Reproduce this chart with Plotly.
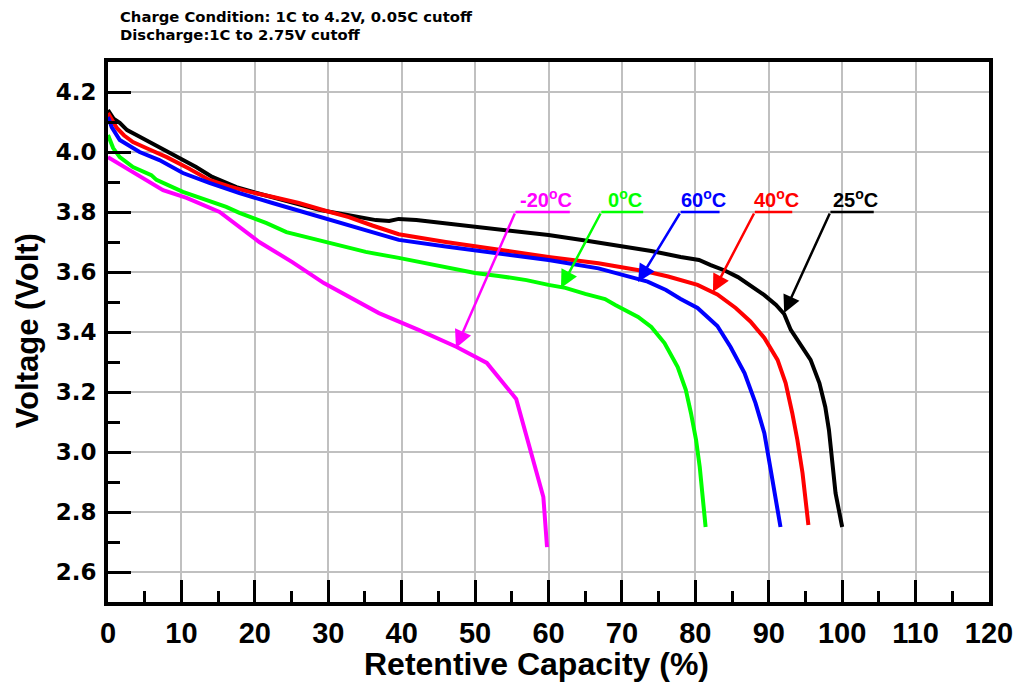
import plotly.graph_objects as go

# ---------------- data ----------------
cap_25 = [0, 0.8, 1.6, 2.6, 4.0, 5.7, 7.5, 9.8, 12, 14.2, 17.5, 20, 22.4, 25.5, 28.8, 31.5,
          34.2, 36.5, 38.3, 39.6, 42, 45, 50.5, 55, 60, 65, 70.4, 74, 78, 80.5, 82.1, 84,
          85.8, 87.5, 89.4, 91, 92.1, 93, 93.9, 95.7, 96.9, 97.7, 98.2, 98.6, 99.1, 100]
volt_25 = [4.14, 4.11, 4.097, 4.073, 4.055, 4.033, 4.01, 3.98, 3.95, 3.917, 3.883, 3.865, 3.85,
           3.83, 3.807, 3.795, 3.783, 3.773, 3.77, 3.777, 3.773, 3.765, 3.75, 3.737, 3.723,
           3.705, 3.683, 3.67, 3.65, 3.64, 3.623, 3.605, 3.583, 3.555, 3.523, 3.49, 3.46,
           3.407, 3.373, 3.307, 3.23, 3.15, 3.073, 2.973, 2.863, 2.75]

cap_40 = [0, 0.5, 1.2, 2.2, 3.4, 5.5, 8, 11, 13.8, 16.5, 19.3, 22.5, 26, 29.5, 32.8, 36, 39.6,
          46, 53.2, 60, 66.8, 73.5, 76.3, 80.3, 83, 85.5, 87.5, 89.4, 91.2, 92.3, 93.2,
          93.9, 94.6, 95, 95.4]
volt_40 = [4.13, 4.11, 4.08, 4.055, 4.033, 4.01, 3.983, 3.945, 3.907, 3.885, 3.867, 3.85, 3.83,
           3.805, 3.783, 3.755, 3.726, 3.70, 3.673, 3.65, 3.629, 3.601, 3.585, 3.557, 3.525,
           3.48, 3.435, 3.38, 3.307, 3.23, 3.13, 3.04, 2.93, 2.84, 2.757]

cap_60 = [0, 0.5, 1.6, 4.3, 7, 10.2, 13.8, 17.9, 22.4, 27, 31.5, 36, 39.6, 46, 53.2, 60,
          66.8, 70.4, 73.5, 76, 78, 80.3, 83, 84.8, 86.7, 88.2, 89.4, 90.2, 90.9, 91.6]
volt_60 = [4.117, 4.083, 4.04, 4.0, 3.973, 3.93, 3.897, 3.863, 3.83, 3.797, 3.763, 3.733,
           3.707, 3.685, 3.662, 3.64, 3.612, 3.588, 3.568, 3.54, 3.51, 3.48, 3.42, 3.35,
           3.263, 3.163, 3.063, 2.95, 2.85, 2.75]

cap_0 = [0, 0.7, 1.6, 3.4, 5.9, 6.6, 10.2, 16.1, 17.9, 21.6, 24.3, 30.5, 35.1, 39.6, 45, 50,
         53.2, 57, 60, 62.3, 65, 67.7, 69.1, 72.2, 74, 75.8, 77.6, 78.7, 79.4, 80.1, 80.6,
         81, 81.4]
volt_0 = [4.057, 4.013, 3.983, 3.95, 3.923, 3.907, 3.867, 3.817, 3.797, 3.763, 3.733, 3.697,
          3.667, 3.647, 3.622, 3.597, 3.587, 3.573, 3.557, 3.547, 3.527, 3.51, 3.49, 3.45,
          3.417, 3.363, 3.283, 3.207, 3.13, 3.04, 2.95, 2.863, 2.75]

cap_m20 = [0, 7.5, 10.7, 15.2, 20.6, 25.1, 29.4, 36.9, 42.3, 47.5, 51.6, 55.6, 59.3, 59.8]
volt_m20 = [3.983, 3.873, 3.847, 3.8, 3.70, 3.633, 3.563, 3.463, 3.407, 3.35, 3.297, 3.177,
            2.85, 2.683]

series_names = ["25oC", "40oC", "60oC", "0oC", "-20oC"]
series_colors = ["#000000", "#ff0000", "#0000ff", "#00ff00", "#ff00ff"]
series_x = [cap_25, cap_40, cap_60, cap_0, cap_m20]
series_y = [volt_25, volt_40, volt_60, volt_0, volt_m20]

# callout labels: text, tip (x, y), tail (x, y), underline end x
label_text = ["-20<sup>o</sup>C", "0<sup>o</sup>C", "60<sup>o</sup>C", "40<sup>o</sup>C", "25<sup>o</sup>C"]
label_color = ["#ff00ff", "#00ff00", "#0000ff", "#ff0000", "#000000"]
tip_x = [47.4, 61.7, 72.2, 82.4, 92.1]
tip_y = [3.347, 3.547, 3.567, 3.533, 3.463]
tail_x = [55.5, 67.2, 78.0, 88.1, 98.4]
tail_y = [3.80, 3.80, 3.80, 3.80, 3.80]
line_end_x = [62.9, 72.9, 83.3, 93.2, 104.3]

x_ticks = list(range(0, 121, 10))
y_ticks = [2.6, 2.8, 3.0, 3.2, 3.4, 3.6, 3.8, 4.0, 4.2]

title_lines = ["Charge Condition: 1C to 4.2V, 0.05C cutoff", "Discharge:1C to 2.75V cutoff"]

# ---------------- figure ----------------
fig = go.Figure()
for xs, ys, c, n in zip(series_x, series_y, series_colors, series_names):
    fig.add_trace(go.Scatter(x=xs, y=ys, mode="lines", name=n,
                             line=dict(color=c, width=4), showlegend=False))

annotations = []
shapes = []
for t, c, tx, ty, ax, ay, ex in zip(label_text, label_color, tip_x, tip_y, tail_x, tail_y, line_end_x):
    annotations.append(dict(x=tx, y=ty, ax=ax, ay=ay, xref="x", yref="y", axref="x", ayref="y",
                            text="", showarrow=True, arrowhead=2, arrowsize=1.4,
                            arrowwidth=2.5, arrowcolor=c))
    shapes.append(dict(type="line", xref="x", yref="y", x0=ax, x1=ex, y0=ay, y1=ay,
                       line=dict(color=c, width=2.5)))
    annotations.append(dict(x=(ax + ex) / 2 + 0.4, y=ay, xref="x", yref="y", text=t,
                            showarrow=False, xanchor="center", yanchor="bottom", yshift=-1,
                            font=dict(family="Liberation Sans, Arial", size=20, color=c,
                                      weight="bold")))

title_font = dict(family="DejaVu Sans", size=14.8, color="black", weight="bold")
annotations.append(dict(x=0.0113, y=1.085, xref="paper", yref="paper", text=title_lines[0],
                        showarrow=False, xanchor="left", yanchor="middle", font=title_font))
annotations.append(dict(x=0.0113, y=1.050, xref="paper", yref="paper", text=title_lines[1],
                        showarrow=False, xanchor="left", yanchor="middle", font=title_font))
annotations.append(dict(x=0.486, y=-0.115, xref="paper", yref="paper",
                        text="Retentive Capacity (%)", showarrow=False,
                        xanchor="center", yanchor="middle",
                        font=dict(family="Liberation Sans, Arial", size=32, color="black",
                                  weight="bold")))
annotations.append(dict(x=-0.0904, y=0.502, xref="paper", yref="paper",
                        text="Voltage (Volt)", showarrow=False, textangle=-90,
                        xanchor="center", yanchor="middle",
                        font=dict(family="Liberation Sans, Arial",
                                  size=31, color="black", weight="bold")))

fig.update_layout(
    width=1017, height=678,
    margin=dict(l=100, r=32, t=54, b=84),
    paper_bgcolor="white", plot_bgcolor="white",
    annotations=annotations, shapes=shapes,
    xaxis=dict(range=[0, 120], tickvals=x_ticks, ticktext=[str(v) for v in x_ticks],
               showgrid=True, gridcolor="#c0c0c0", gridwidth=1.5, zeroline=False,
               showline=True, linecolor="black", linewidth=4, mirror=True,
               ticks="inside", ticklen=22, tickwidth=3, tickcolor="black",
               ticklabelstandoff=2,
               tickfont=dict(family="Liberation Sans, Arial", size=29, color="black",
                             weight="bold"),
               minor=dict(dtick=5, tick0=0, ticks="inside", ticklen=11, tickwidth=3,
                          tickcolor="black", showgrid=False)),
    yaxis=dict(range=[2.5, 4.3], tickvals=y_ticks, ticktext=["%.1f" % v for v in y_ticks],
               showgrid=True, gridcolor="#c0c0c0", gridwidth=1.5, zeroline=False,
               showline=True, linecolor="black", linewidth=4, mirror=True,
               ticks="inside", ticklen=23, tickwidth=3, tickcolor="black",
               ticklabelstandoff=3,
               tickfont=dict(family="DejaVu Sans", size=23, color="black", weight="bold"),
               minor=dict(dtick=0.1, tick0=2.5, ticks="inside", ticklen=12, tickwidth=3,
                          tickcolor="black", showgrid=False)),
)

fig.write_html("out.html")
